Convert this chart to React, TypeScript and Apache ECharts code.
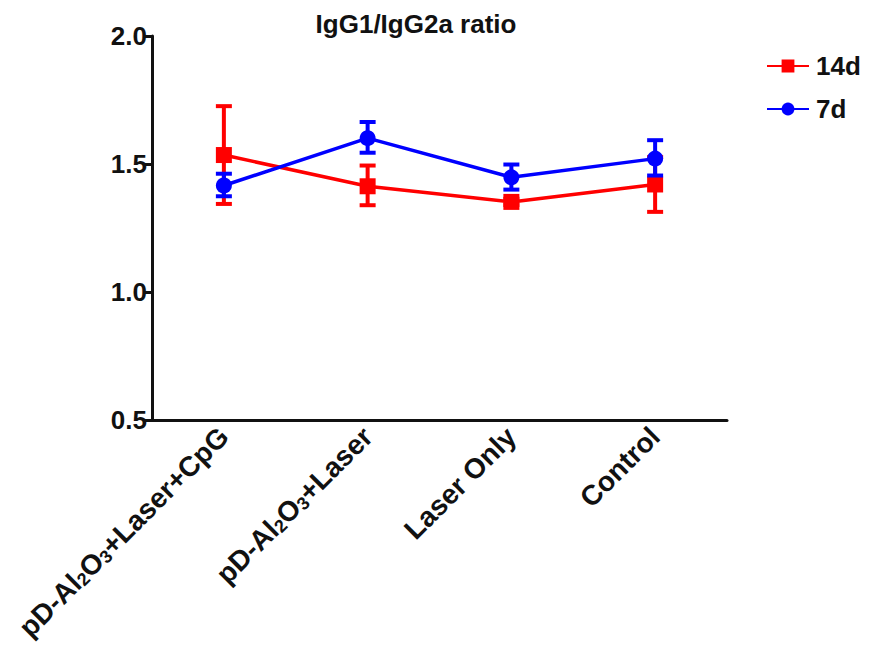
import React, { useEffect, useRef } from "react";
import * as echarts from "echarts";

const categories = [
  "pD-Al{s|2}O{s|3}+Laser+CpG",
  "pD-Al{s|2}O{s|3}+Laser",
  "Laser Only",
  "Control",
];
const yTicks = [0.5, 1.0, 1.5, 2.0];

const mean14d = [1.535, 1.413, 1.352, 1.42];
const low14d = [1.344, 1.339, 1.34, 1.313];
const high14d = [1.726, 1.494, 1.364, 1.527];

const mean7d = [1.416, 1.601, 1.448, 1.521];
const low7d = [1.374, 1.544, 1.4, 1.455];
const high7d = [1.462, 1.664, 1.498, 1.593];

const RED = "#ff0000";
const BLUE = "#0000ff";
const FONT = "Liberation Sans, Arial, sans-serif";

function errSeries(name: string, low: number[], high: number[], color: string, z: number) {
  return {
    type: "custom",
    name: name + "-err",
    z,
    data: low.map((l, i) => [i, l, high[i]]),
    encode: { x: 0, y: [1, 2] },
    renderItem: (params: any, api: any) => {
      const x = api.value(0);
      const lo = api.coord([x, api.value(1)]);
      const hi = api.coord([x, api.value(2)]);
      const half = 8;
      const style = { stroke: color, lineWidth: 4 };
      return {
        type: "group",
        children: [
          { type: "line", shape: { x1: lo[0], y1: lo[1], x2: hi[0], y2: hi[1] }, style },
          { type: "line", shape: { x1: lo[0] - half, y1: lo[1], x2: lo[0] + half, y2: lo[1] }, style },
          { type: "line", shape: { x1: hi[0] - half, y1: hi[1], x2: hi[0] + half, y2: hi[1] }, style },
        ],
      };
    },
    silent: true,
  };
}

export default function App() {
  const ref = useRef<HTMLDivElement>(null);
  useEffect(() => {
    const chart = echarts.init(ref.current!, null, { renderer: "svg" });
    chart.setOption({
      animation: false,
      backgroundColor: "#ffffff",
      title: {
        text: "IgG1/IgG2a ratio",
        left: 403,
        top: -2,
        textAlign: "center",
        textStyle: { fontFamily: FONT, fontWeight: "bold", fontSize: 26, color: "#111" },
      },
      legend: {
        orient: "vertical",
        left: 753,
        top: 40,
        itemGap: 17,
        itemWidth: 42,
        itemHeight: 16,
        data: ["14d", "7d"],
        textStyle: { fontFamily: FONT, fontWeight: "bold", fontSize: 26, color: "#111", padding: [0, 0, 0, 2] },
      },
      grid: { left: 144, right: 151, top: 28, bottom: 240, containLabel: false, outerBoundsMode: "none" },
      xAxis: {
        type: "category",
        data: categories,
        boundaryGap: true,
        axisLine: { lineStyle: { color: "#111", width: 3 } },
        axisTick: { alignWithLabel: true, length: 8, lineStyle: { color: "#111", width: 3 } },
        axisLabel: {
          rotate: 45,
          margin: 12,
          interval: 0,
          fontFamily: FONT,
          fontWeight: "bold",
          fontSize: 28,
          color: "#111",
          rich: {
            s: { fontFamily: FONT, fontWeight: "bold", fontSize: 18, color: "#111", verticalAlign: "bottom", padding: [8, 0, 0, 0] },
          },
        },
      },
      yAxis: {
        type: "value",
        min: yTicks[0],
        max: yTicks[yTicks.length - 1],
        interval: 0.5,
        splitLine: { show: false },
        axisLine: { show: true, lineStyle: { color: "#111", width: 3 } },
        axisTick: { show: true, length: 8, lineStyle: { color: "#111", width: 3 } },
        axisLabel: {
          margin: 5,
          fontFamily: FONT,
          fontWeight: "bold",
          fontSize: 26,
          color: "#111",
          formatter: (v: number) => v.toFixed(1),
        },
      },
      series: [
        errSeries("14d", low14d, high14d, RED, 2),
        {
          type: "line",
          name: "14d",
          z: 3,
          data: mean14d,
          symbol: "rect",
          symbolSize: 16,
          itemStyle: { color: RED },
          lineStyle: { color: RED, width: 3.5 },
        },
        errSeries("7d", low7d, high7d, BLUE, 4),
        {
          type: "line",
          name: "7d",
          z: 5,
          data: mean7d,
          symbol: "circle",
          symbolSize: 16,
          itemStyle: { color: BLUE },
          lineStyle: { color: BLUE, width: 3.5 },
        },
      ],
    });
    return () => chart.dispose();
  }, []);
  return <div ref={ref} style={{ width: 870, height: 652 }} />;
}
